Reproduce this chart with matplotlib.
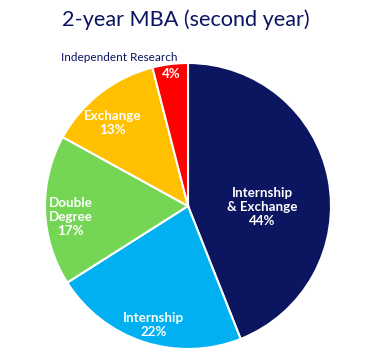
import matplotlib.pyplot as plt

plt.rcParams['font.family'] = ['Lato', 'DejaVu Sans']

categories = ['Internship\n& Exchange', 'Internship', 'Double\nDegree', 'Exchange', 'Independent Research']
shares = [44, 22, 17, 13, 4]
colors = ['#0B1560', '#00B0F0', '#74D654', '#FFC000', '#FF0000']

fig = plt.figure(figsize=(3.72, 3.57), dpi=100)
ax = fig.add_axes([45 / 372, 8 / 357, 286 / 372, 286 / 357])

wedges, _ = ax.pie(shares, colors=colors, startangle=90, counterclock=False,
                   radius=1.0, wedgeprops=dict(edgecolor='white', linewidth=1.5))
ax.set_xlim(-1.0, 1.0)
ax.set_ylim(-1.0, 1.0)
ax.set_aspect('equal')
ax.axis('off')

# label positions inside slices (data units, radius 1)
label_pos = [(0.52, -0.01), (-0.24, -0.83), (-0.82, -0.08), (-0.53, 0.58), (-0.12, 0.92)]
for i, (name, val) in enumerate(zip(categories, shares)):
    x, y = label_pos[i]
    if i == 4:
        txt = f'{val}%'
    else:
        txt = f'{name}\n{val}%'
    ax.text(x, y, txt, ha='center', va='center', color='white', fontsize=9.6,
            fontweight='bold', linespacing=1.2)

ax.text(-0.48, 1.04, categories[4], ha='center', va='center', color='#0B1560', fontsize=8.5)

fig.text(0.5, 1 - 20 / 357, '2-year MBA (second year)', ha='center', va='center',
         color='#0B1560', fontsize=15.6)

fig.savefig('out.png', dpi=100)
